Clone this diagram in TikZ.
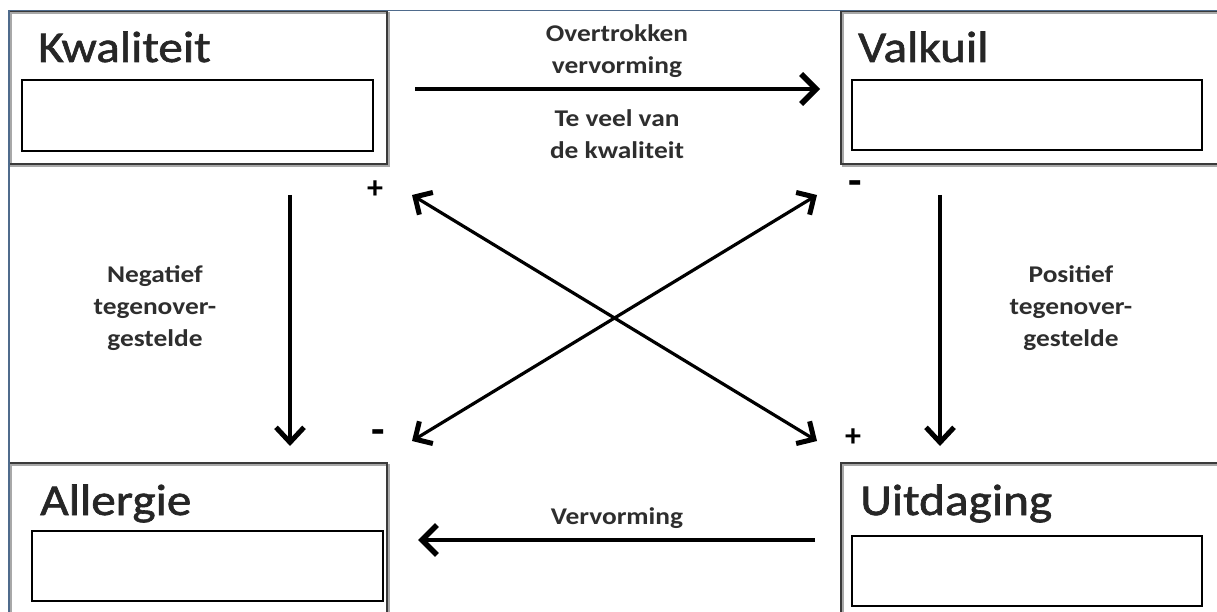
\documentclass[tikz,border=0pt]{standalone}
\usepackage{fontspec}
\setmainfont{Carlito}
\newfontfamily\lblfont[FakeStretch=1.14]{Carlito}
\newfontfamily\ttlfont[FakeStretch=1.12,FakeBold=1.4]{Carlito}
\usetikzlibrary{arrows.meta}
\definecolor{frameblue}{HTML}{4F6B8C}
\definecolor{boxgray}{HTML}{3A3A3A}
\definecolor{shadowgray}{HTML}{A8A8A8}
\begin{document}
\begin{tikzpicture}[x=1pt,y=-1pt,
  bigbox/.style={draw=boxgray, line width=2.2pt, anchor=north west, inner sep=0pt, outer sep=0pt,
    preaction={draw=shadowgray, line width=2pt, transform canvas={shift={(2pt,-2pt)}}}},
  inbox/.style={draw=black, line width=2.2pt, anchor=north west, inner sep=0pt, outer sep=0pt},
  title/.style={anchor=base west, inner sep=0pt, font=\ttlfont\fontsize{44}{48}\selectfont, text=black!85},
  lbl/.style={align=center, inner sep=0pt, font=\lblfont\bfseries\fontsize{24}{32}\selectfont, text=black!82},
  sign/.style={inner sep=0pt, font=\bfseries\fontsize{32}{34}\selectfont},
  minus/.style={inner sep=0pt, font=\bfseries\fontsize{44}{46}\selectfont},
  harrow/.style={line width=4pt, -{Straight Barb[length=15pt,width=30pt,line width=5.5pt]}},
  varrow/.style={line width=3.6pt, -{Straight Barb[length=15pt,width=28pt,line width=5pt]}},
  darrow/.style={line width=3.2pt, {Straight Barb[length=13pt,width=26pt,line width=5pt]}-{Straight Barb[length=13pt,width=26pt,line width=5pt]}}
]
\useasboundingbox (0,0) rectangle (1217,612);
\clip (0,0) rectangle (1217,612);
\fill[white] (0,0) rectangle (1217,612);

% boxes
\node[bigbox, minimum width=378pt, minimum height=153pt] (kw) at (9,11) {};
\node[bigbox, minimum width=400pt, minimum height=153pt] (vk) at (841,11) {};
\node[bigbox, minimum width=378pt, minimum height=170pt] (al) at (9,463) {};
\node[bigbox, minimum width=400pt, minimum height=170pt] (ui) at (841,463) {};

% frame
\draw[frameblue, line width=1.8pt] (9,630) -- (9,10.5) -- (1230,10.5);

% titles
\node[title] (tkw) at (38,62) {Kwaliteit};
\node[title] (tvk) at (858,62) {Valkuil};
\node[title] (tal) at (40,515) {Allergie};
\node[title] (tui) at (860,515) {Uitdaging};

% inner boxes
\node[inbox, minimum width=351pt, minimum height=71pt] (ikw) at (22,80) {};
\node[inbox, minimum width=350pt, minimum height=70pt] (ivk) at (852,80) {};
\node[inbox, minimum width=351pt, minimum height=70pt] (ial) at (32,531) {};
\node[inbox, minimum width=350pt, minimum height=70pt] (iui) at (852,536) {};

% arrow end points
\coordinate (ta) at (415,89);
\coordinate (tb) at (820,89);
\coordinate (ba) at (815,540);
\coordinate (bb) at (418,540);
\coordinate (la) at (290,195);
\coordinate (lb) at (290,446);
\coordinate (ra) at (940,195);
\coordinate (rb) at (940,446);
\coordinate (d1a) at (412,195);
\coordinate (d1b) at (817,441);
\coordinate (d2a) at (412,441);
\coordinate (d2b) at (817,195);

\draw[harrow] (ta) -- (tb);
\draw[harrow] (ba) -- (bb);
\draw[varrow] (la) -- (lb);
\draw[varrow] (ra) -- (rb);
\draw[darrow] (d1a) -- (d1b);
\draw[darrow] (d2a) -- (d2b);

% labels
\node[lbl] (l1) at (617,51) {Overtrokken\\vervorming};
\node[lbl] (l2) at (617,134) {Te veel van\\de kwaliteit};
\node[lbl] (l3) at (617,518) {Vervorming};
\node[lbl] (l4) at (155,308) {Negatief\\tegenover-\\gestelde};
\node[lbl] (l5) at (1071,308) {Positief\\tegenover-\\gestelde};

% signs
\node[sign] (s1) at (375,190) {+};
\node[minus] (s2) at (855,188) {-};
\node[minus] (s3) at (378,437) {-};
\node[sign] (s4) at (853,438) {+};
\end{tikzpicture}
\end{document}
